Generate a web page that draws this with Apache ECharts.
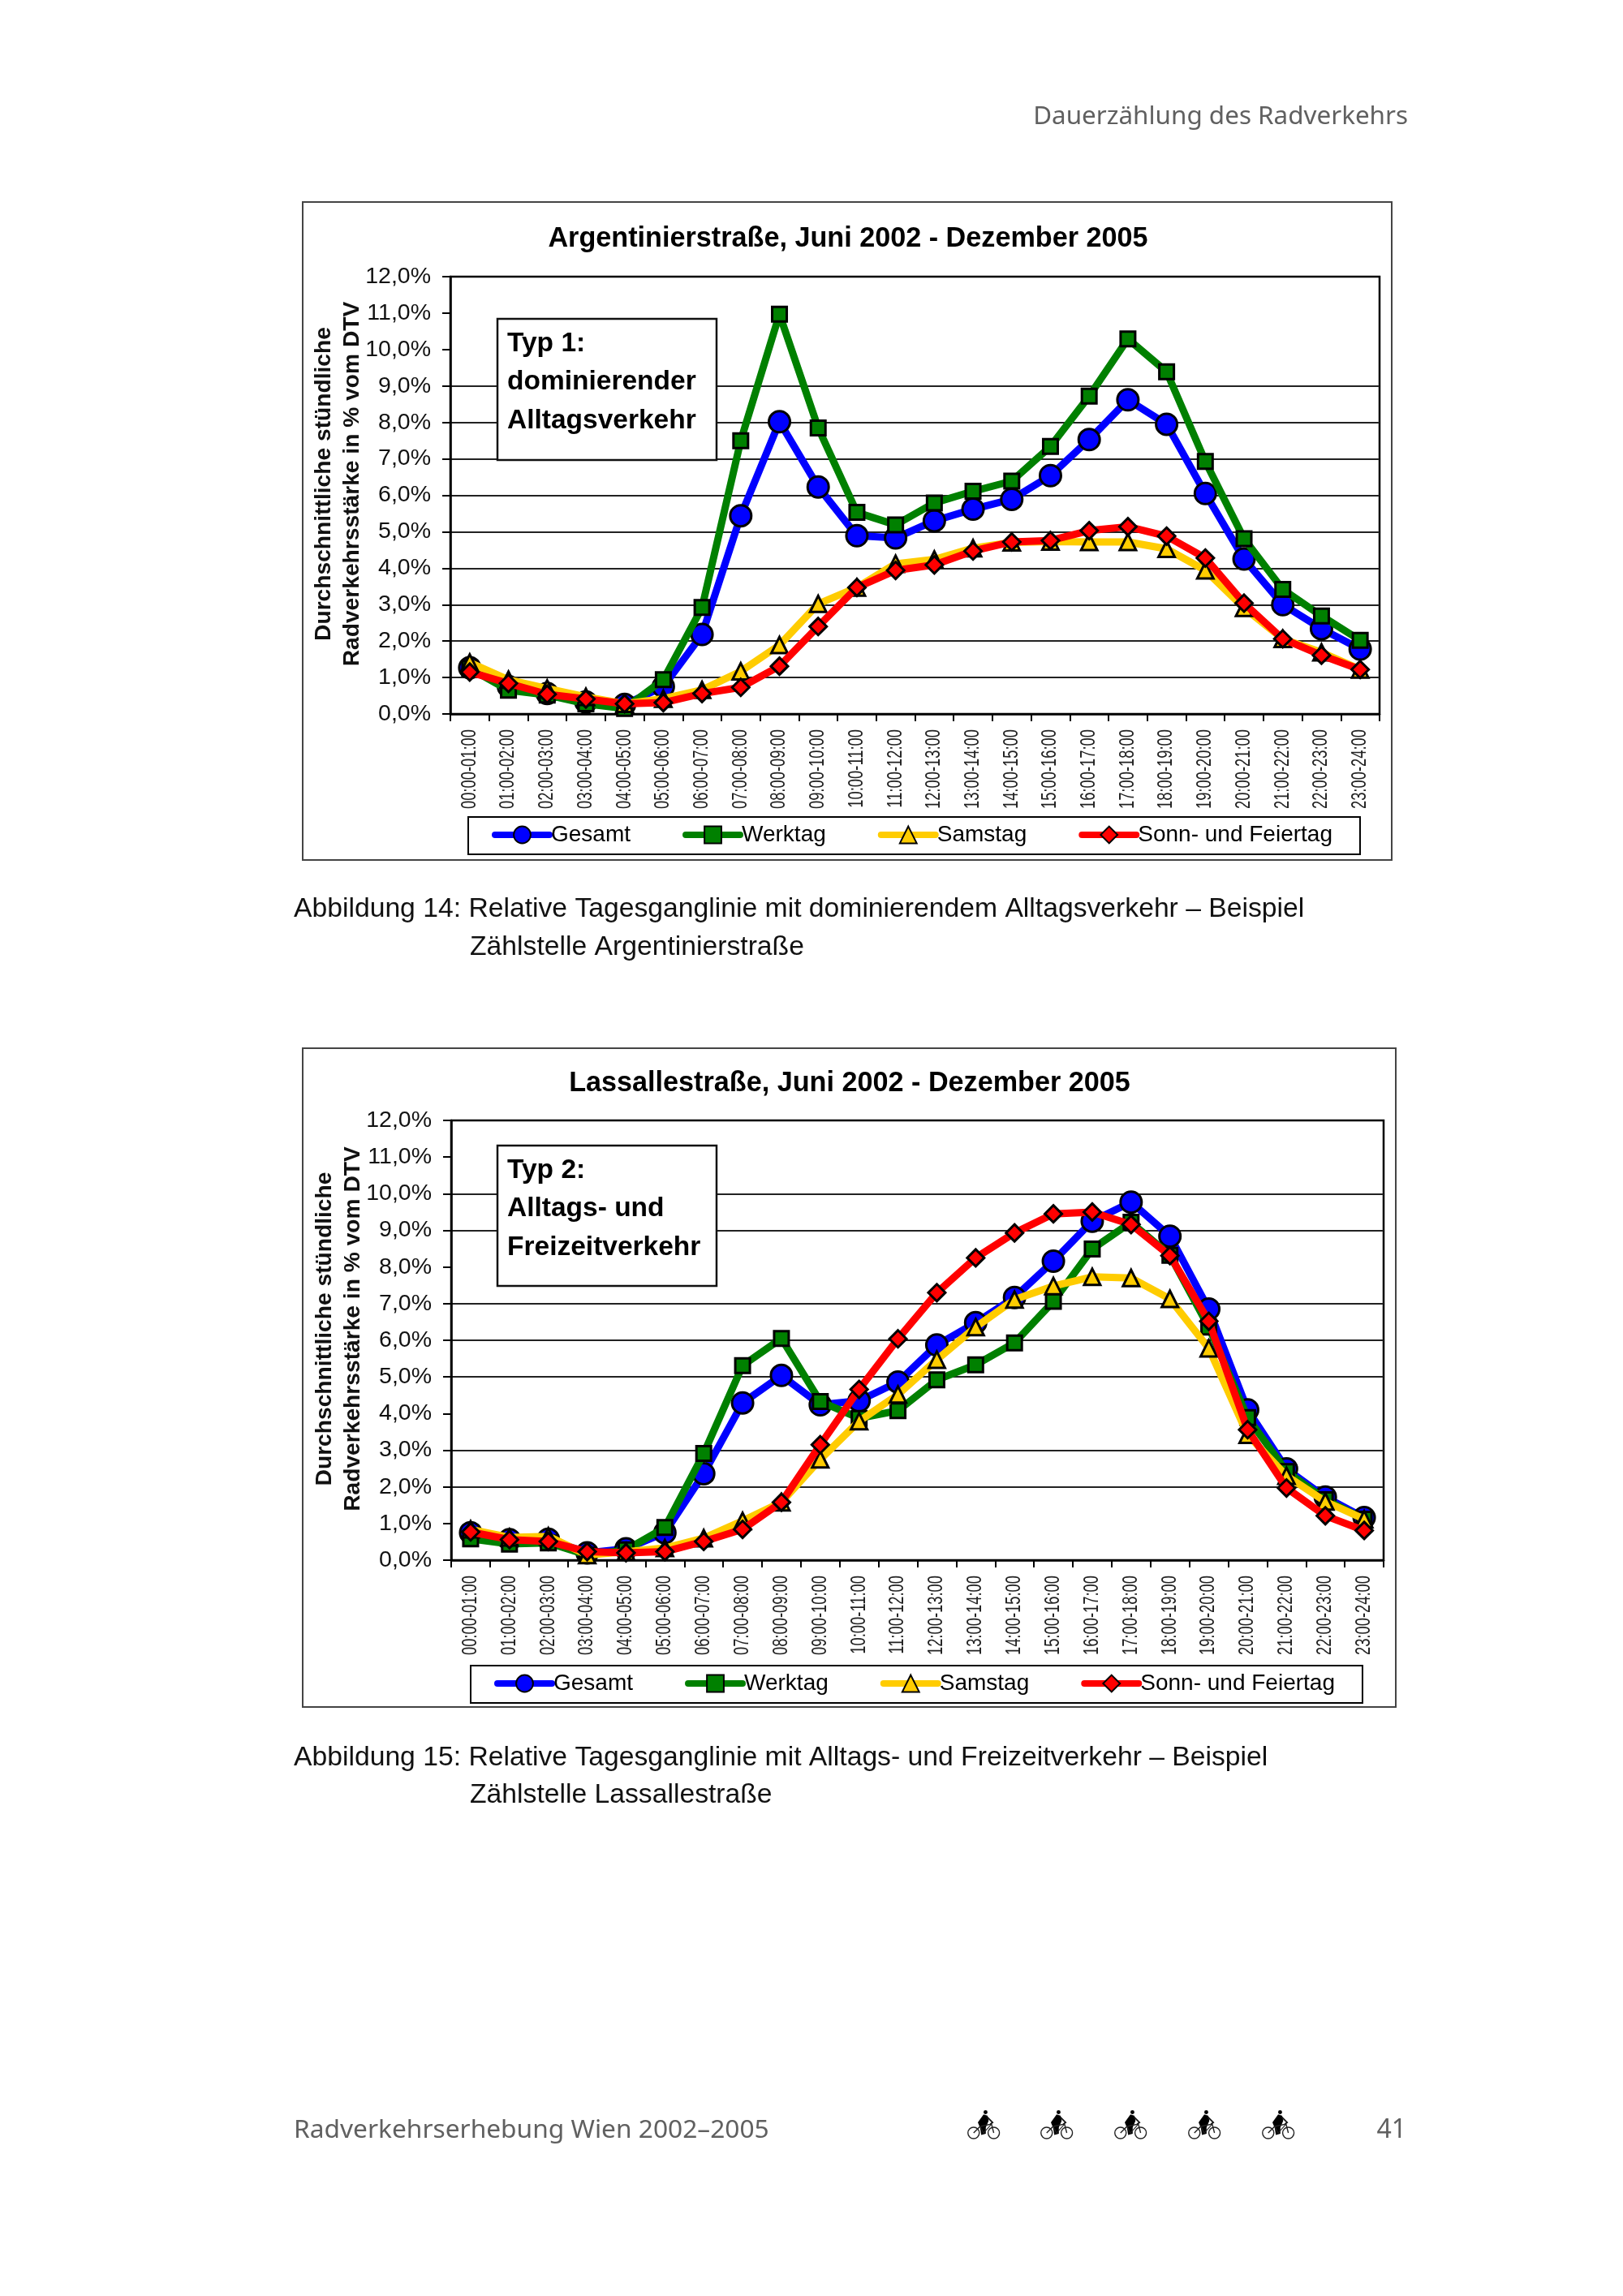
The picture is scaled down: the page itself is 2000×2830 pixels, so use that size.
<!DOCTYPE html>
<html><head><meta charset="utf-8">
<script src="https://cdn.jsdelivr.net/npm/echarts@6/dist/echarts.min.js"></script>
<style>html,body{margin:0;padding:0;background:#fff}#c{width:2000px;height:2830px}</style>
</head><body><div id="c"></div>
<script>
const hours = ["00:00-01:00","01:00-02:00","02:00-03:00","03:00-04:00","04:00-05:00","05:00-06:00","06:00-07:00","07:00-08:00","08:00-09:00","09:00-10:00","10:00-11:00","11:00-12:00","12:00-13:00","13:00-14:00","14:00-15:00","15:00-16:00","16:00-17:00","17:00-18:00","18:00-19:00","19:00-20:00","20:00-21:00","21:00-22:00","22:00-23:00","23:00-24:00"];
const seriesNames = ["Gesamt","Werktag","Samstag","Sonn- und Feiertag"];
const argGesamt  = [1.27,0.75,0.56,0.33,0.26,0.75,2.18,5.44,8.02,6.23,4.89,4.83,5.30,5.62,5.89,6.54,7.53,8.62,7.95,6.05,4.25,3.00,2.34,1.78];
const argWerktag = [1.25,0.65,0.52,0.28,0.15,0.94,2.92,7.50,10.97,7.85,5.53,5.19,5.79,6.11,6.39,7.34,8.72,10.29,9.39,6.93,4.81,3.42,2.69,2.02];
const argSamstag = [1.41,0.94,0.70,0.47,0.28,0.42,0.66,1.17,1.89,3.02,3.47,4.12,4.24,4.55,4.71,4.73,4.72,4.72,4.53,3.94,2.91,2.06,1.69,1.22];
const argSonntag = [1.15,0.84,0.54,0.41,0.28,0.31,0.56,0.73,1.31,2.40,3.47,3.94,4.09,4.47,4.72,4.76,5.03,5.14,4.88,4.28,3.04,2.06,1.61,1.22];
const lasGesamt  = [0.75,0.56,0.57,0.20,0.31,0.75,2.36,4.29,5.04,4.24,4.35,4.86,5.87,6.48,7.17,8.16,9.25,9.77,8.84,6.85,4.10,2.49,1.72,1.16];
const lasWerktag = [0.58,0.44,0.47,0.14,0.28,0.89,2.91,5.31,6.05,4.33,3.87,4.08,4.92,5.33,5.93,7.06,8.49,9.22,8.32,6.36,3.89,2.42,1.65,1.12];
const lasSamstag = [0.84,0.62,0.65,0.14,0.23,0.33,0.60,1.07,1.58,2.75,3.79,4.52,5.47,6.36,7.11,7.48,7.73,7.70,7.13,5.78,3.42,2.30,1.60,1.12];
const lasSonntag = [0.77,0.56,0.51,0.23,0.20,0.23,0.51,0.84,1.58,3.15,4.66,6.04,7.30,8.25,8.93,9.45,9.50,9.16,8.31,6.52,3.56,1.97,1.21,0.81];
const argData = [argGesamt,argWerktag,argSamstag,argSonntag];
const lasData = [lasGesamt,lasWerktag,lasSamstag,lasSonntag];
const colors = ["#0000FF","#008000","#FFCC00","#FF0000"];
const symbols = ["circle","rect","triangle","diamond"];
const symbolSizes = [26,18,20,21];
const F = "'Liberation Sans', Arial, sans-serif";
const FD = "'Noto Sans', sans-serif";
const grid0 = "#222", none = "rgba(0,0,0,0)";
const panels = [
  {title:"Argentinierstraße, Juni 2002 - Dezember 2005", titleX:1045, titleY:278, data:argData,
   grid:{left:555,top:341,width:1145,height:539},
   frame:[373,249,1342,811], box:[613,393,270,174], boxText:"Typ 1:\ndominierender\nAlltagsverkehr",
   legend:[577,1007],
   gridVis:[0,1,1,1,1,1,1,1,1,1,0,0,0]},
  {title:"Lassallestraße, Juni 2002 - Dezember 2005", titleX:1047, titleY:1319, data:lasData,
   grid:{left:556,top:1381,width:1149,height:542},
   frame:[373,1292,1347,812], box:[613,1412,270,173], boxText:"Typ 2:\nAlltags- und\nFreizeitverkehr",
   legend:[580,2053],
   gridVis:[0,0,1,1,0,1,1,1,0,1,1,0,0]}
];
const yName = "Durchschnittliche stündliche\nRadverkehrsstärke in % vom DTV";
const texts = [
 {t:"Dauerzählung des Radverkehrs", x:1735,y:144, align:"right", f:FD, s:31.4, c:"#606060"},
 {t:"Abbildung 14: Relative Tagesganglinie mit dominierendem Alltagsverkehr – Beispiel", x:362,y:1121,align:"left",f:F,s:33.7,c:"#111"},
 {t:"Zählstelle Argentinierstraße", x:579,y:1168,align:"left",f:F,s:33.7,c:"#111"},
 {t:"Abbildung 15: Relative Tagesganglinie mit Alltags- und Freizeitverkehr – Beispiel", x:362,y:2167,align:"left",f:F,s:33.7,c:"#111"},
 {t:"Zählstelle Lassallestraße", x:579,y:2213,align:"left",f:F,s:33.7,c:"#111"},
 {t:"Radverkehrserhebung Wien 2002–2005", x:362,y:2626,align:"left",f:FD,s:31.7,c:"#606060"},
 {t:"41", x:1733,y:2626,align:"right",f:FD,s:32,c:"#606060"}
];
const bikeX = [1212,1302,1393,1484,1575];

function bike(cx){
  return {type:"group", x:cx-68/2.86, y:2629-115/2.86, scaleX:1/2.86, scaleY:1/2.86, z:10, children:[
    {type:"circle",shape:{cx:33,cy:115,r:20},style:{fill:null,stroke:"#222",lineWidth:4}},
    {type:"circle",shape:{cx:104,cy:115,r:20},style:{fill:null,stroke:"#222",lineWidth:4}},
    {type:"circle",shape:{cx:75,cy:42,r:7},style:{fill:"#000"}},
    {type:"polygon",shape:{points:[[68,50],[82,54],[86,72],[76,96],[76,118],[60,122],[56,98],[48,78]]},style:{fill:"#000"}},
    {type:"polyline",shape:{points:[[33,115],[56,92],[96,84],[104,115]]},style:{fill:null,stroke:"#222",lineWidth:4}},
    {type:"polyline",shape:{points:[[80,58],[100,78],[92,84]]},style:{fill:null,stroke:"#111",lineWidth:5}},
    {type:"polyline",shape:{points:[[56,92],[68,115],[96,84]]},style:{fill:null,stroke:"#222",lineWidth:3}}
  ]};
}

const option = {animation:false, backgroundColor:"#fff",
  title:[], legend:[], grid:[], xAxis:[], yAxis:[], series:[], graphic:{elements:[]}};
const G = option.graphic.elements;

panels.forEach((p,i)=>{
  option.title.push({text:p.title,left:p.titleX,top:p.titleY,textAlign:"center",padding:0,
    textStyle:{fontFamily:F,fontWeight:"bold",fontSize:34.2,color:"#000"}});
  option.grid.push(Object.assign({show:true,borderColor:"#000",borderWidth:2.5,backgroundColor:"#fff"},p.grid));
  option.xAxis.push({type:"category",gridIndex:i,data:hours,boundaryGap:true,
    axisLine:{lineStyle:{color:"#000",width:2.5}},
    axisTick:{show:true,alignWithLabel:false,length:9,lineStyle:{color:"#000",width:2}},
    axisLabel:{interval:0,rotate:90,margin:19,fontFamily:"'Liberation Sans'",fontSize:25,color:"#222"},
    splitLine:{show:false}});
  option.yAxis.push({type:"value",gridIndex:i,min:0,max:12,interval:1,
    axisLine:{show:true,lineStyle:{color:"#000",width:2.5}},
    axisTick:{show:true,length:10,lineStyle:{color:"#000",width:2}},
    axisLabel:{margin:24,fontFamily:F,fontSize:28.5,color:"#111",formatter:v=>v.toFixed(1).replace(".",",")+"%"},
    splitLine:{show:true,lineStyle:{color:p.gridVis.map(v=>v?grid0:none),width:2}},
    name:yName,nameLocation:"middle",nameRotate:90,nameGap:103,nameMoveOverlap:false,
    nameTextStyle:{fontFamily:F,fontWeight:"bold",fontSize:28.2,lineHeight:35,color:"#111",align:"center",padding:[0,0,0,28]}});
  seriesNames.forEach((n,k)=>{
    option.series.push({type:"line",name:n,xAxisIndex:i,yAxisIndex:i,data:p.data[k],z:2+k,
      symbol:symbols[k],symbolSize:symbolSizes[k],showSymbol:true,showAllSymbol:true,smooth:false,
      lineStyle:{color:colors[k],width:9,cap:"round",join:"round"},
      itemStyle:{color:colors[k],borderColor:"#000",borderWidth:3,opacity:1},
      emphasis:{disabled:true}});
  });
  option.legend.push({left:p.legend[0],top:p.legend[1],orient:"horizontal",data:seriesNames,
    padding:[8,34,10,29],itemWidth:67,itemHeight:26,itemGap:64,borderColor:"#000",borderWidth:2,
    backgroundColor:"#fff",lineStyle:{width:8,cap:"round"},
    textStyle:{fontFamily:F,fontSize:28,color:"#000",padding:[0,0,0,-3]}});
  G.push({type:"rect",z:1,shape:{x:p.frame[0],y:p.frame[1],width:p.frame[2],height:p.frame[3]},
    style:{fill:null,stroke:"#444",lineWidth:2}});
  G.push({type:"rect",z:1,shape:{x:p.box[0],y:p.box[1],width:p.box[2],height:p.box[3]},
    style:{fill:"#fff",stroke:"#111",lineWidth:2.5}});
  G.push({type:"text",z:2,x:p.box[0]+12,y:p.box[1]+7,
    style:{text:p.boxText,font:"bold 33.5px "+F,lineHeight:47.5,fill:"#000",textAlign:"left",textVerticalAlign:"top"}});
});
texts.forEach(t=>G.push({type:"text",z:10,x:t.x,y:t.y,
  style:{text:t.t,font:t.s+"px "+t.f,fill:t.c,textAlign:t.align,textVerticalAlign:"middle"}}));
bikeX.forEach(x=>G.push(bike(x)));

const chart = echarts.init(document.getElementById("c"),null,{renderer:"canvas",width:2000,height:2830});
chart.setOption(option);
// The reference's hour labels are horizontally condensed: squeeze them along their reading direction.
const zr = chart.getZr();
zr.storage.traverse(el=>{
  if(el.style && hours.includes(el.style.text)){ el.scaleX = 0.735; el.markRedraw(); }
});
zr.refreshImmediately();
</script></body></html>
